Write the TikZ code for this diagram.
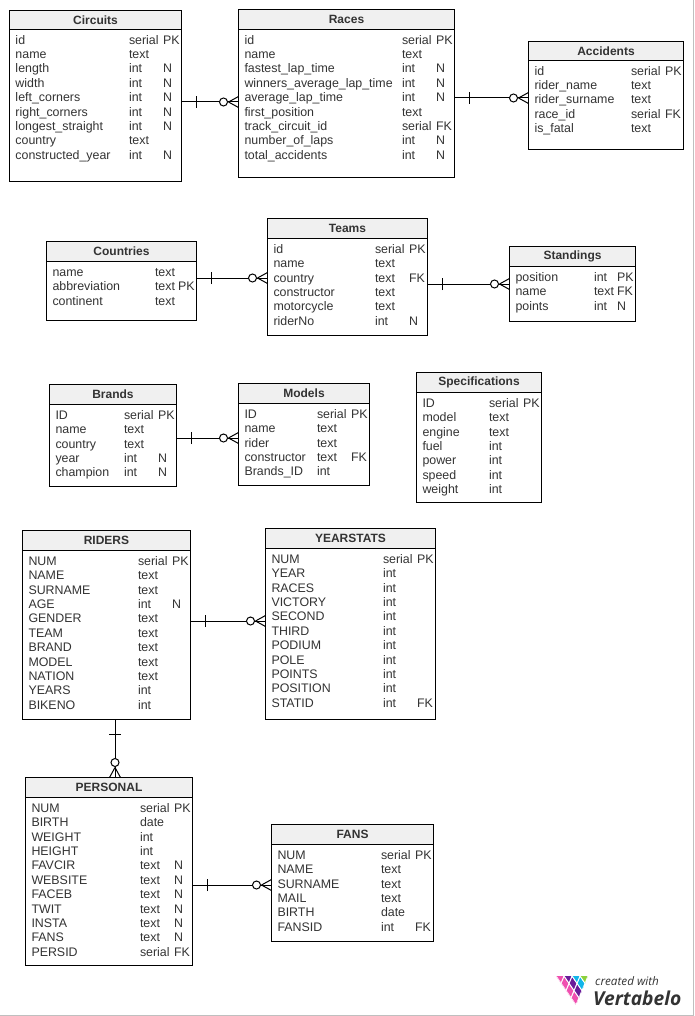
\documentclass[tikz,border=0pt]{standalone}
\usepackage{fontspec}
\setmainfont{Liberation Sans}
\newfontfamily\logofont{Open Sans}
\usetikzlibrary{calc}

\definecolor{headfill}{HTML}{F0F0F0}
\definecolor{rowtext}{HTML}{333333}
\definecolor{logogrey}{HTML}{333333}
\definecolor{logopink}{HTML}{F04FB0}
\definecolor{logopurple}{HTML}{6A1B9A}
\definecolor{logoblue}{HTML}{12B5EA}
\definecolor{logogreen}{HTML}{8CD13C}

\tikzset{
  tablebox/.style={draw=black, fill=white, line width=1pt, outer sep=0pt, inner sep=0pt, anchor=north west},
  tablehead/.style={tablebox, fill=headfill, text=rowtext, font=\bfseries\fontsize{12}{14}\selectfont},
  rowcell/.style={anchor=base west, inner sep=0pt, outer sep=0pt, text=rowtext, font=\fontsize{12.4}{14}\selectfont},
  link/.style={draw=black, line width=1pt},
}

% #1 name, #2 left, #3 top, #4 width, #5 height, #6 title, #7 head height
% #8 type column, #9 flag column, then the rows
\newcommand{\dbtable}[9]{%
  \node[tablebox, minimum width=#4pt, minimum height=#5pt] (#1) at (#2,-#3) {};
  \node[tablehead, minimum width=#4pt, minimum height=#7pt] (#1head) at (#2,-#3) {#6};
  \def\tabname{#1}\def\tabtype{#8}\def\tabflag{#9}%
  \pgfmathsetmacro{\tableft}{#2+6}\pgfmathsetmacro{\tabbase}{#3+#7+14.7}%
  \dbrows
}
\newcommand{\dbrows}[1]{%
  \foreach \rowname/\rowtype/\rowflag [count=\i] in {#1} {
    \pgfmathsetmacro{\rowy}{-\tabbase-14.4*(\i-1)}
    \node[rowcell] (\tabname-\i-name) at (\tableft,\rowy) {\rowname};
    \node[rowcell] (\tabname-\i-type) at (\tabtype,\rowy) {\rowtype};
    \node[rowcell] (\tabname-\i-flag) at (\tabflag,\rowy) {\rowflag};
  }
}
% one side a bar, other side a circle with a crow's foot
\newcommand{\hlink}[4]{%
  \coordinate (#1s) at (#2.east |- 0,-#4);
  \coordinate (#1e) at (#3.west |- 0,-#4);
  \draw[link] (#1s) -- (#1e);
  \draw[link] ([shift={(15,-6)}]#1s) -- ([shift={(15,6)}]#1s);
  \draw[link] ([xshift=-10]#1e) -- ([yshift=5.5]#1e);
  \draw[link] ([xshift=-10]#1e) -- ([yshift=-5.5]#1e);
  \draw[link, fill=white] ([xshift=-15]#1e) circle [radius=4];
}

\begin{document}
\begin{tikzpicture}[x=1pt, y=1pt]
  \useasboundingbox (0,0) rectangle (694,-1016);
  \draw[gray!50] (693.5,0) -- (693.5,-1015.5) -- (0,-1015.5);

  % first row
  \dbtable{circuits}{9.5}{10.5}{172}{171}{Circuits}{19}{129}{163}
  {id/serial/PK, name/text/{}, length/int/N, width/int/N, left\_corners/int/N, right\_corners/int/N,
   longest\_straight/int/N, country/text/{}, constructed\_year/int/N}
  \dbtable{races}{238.5}{9.5}{216}{168}{Races}{20}{402}{436}
  {id/serial/PK, name/text/{}, fastest\_lap\_time/int/N, winners\_average\_lap\_time/int/N,
   average\_lap\_time/int/N, first\_position/text/{}, track\_circuit\_id/serial/FK,
   number\_of\_laps/int/N, total\_accidents/int/N}
  \dbtable{accidents}{528.5}{41.5}{155}{108}{Accidents}{19}{631}{665}
  {id/serial/PK, rider\_name/text/{}, rider\_surname/text/{}, race\_id/serial/FK, is\_fatal/text/{}}

  % second row
  \dbtable{countries}{46.5}{241.5}{150}{79}{Countries}{20}{155}{178}
  {name/text/{}, abbreviation/text/PK, continent/text/{}}
  \dbtable{teams}{267.5}{218.5}{160}{117}{Teams}{20}{375}{409}
  {id/serial/PK, name/text/{}, country/text/FK, constructor/text/{}, motorcycle/text/{}, riderNo/int/N}
  \dbtable{standings}{509.5}{246.5}{126}{75}{Standings}{20}{594}{617}
  {position/int/PK, name/text/FK, points/int/N}

  % third row
  \dbtable{brands}{49.5}{384.5}{127}{102}{Brands}{20}{124}{158}
  {ID/serial/PK, name/text/{}, country/text/{}, year/int/N, champion/int/N}
  \dbtable{models}{238.5}{383.5}{131}{102}{Models}{20}{317}{351}
  {ID/serial/PK, name/text/{}, rider/text/{}, constructor/text/FK, Brands\_ID/int/{}}
  \dbtable{specs}{416.5}{372.5}{125}{130}{Specifications}{20}{489}{523}
  {ID/serial/PK, model/text/{}, engine/text/{}, fuel/int/{}, power/int/{}, speed/int/{}, weight/int/{}}

  % riders
  \dbtable{riders}{22.5}{530.5}{168}{189}{RIDERS}{20}{138}{172}
  {NUM/serial/PK, NAME/text/{}, SURNAME/text/{}, AGE/int/N, GENDER/text/{}, TEAM/text/{}, BRAND/text/{},
   MODEL/text/{}, NATION/text/{}, YEARS/int/{}, BIKENO/int/{}}
  \dbtable{yearstats}{265.5}{528.5}{170}{191}{YEARSTATS}{20}{383}{417}
  {NUM/serial/PK, YEAR/int/{}, RACES/int/{}, VICTORY/int/{}, SECOND/int/{}, THIRD/int/{}, PODIUM/int/{},
   POLE/int/{}, POINTS/int/{}, POSITION/int/{}, STATID/int/FK}
  \dbtable{personal}{25.5}{777.5}{167}{188}{PERSONAL}{20}{140}{174}
  {NUM/serial/PK, BIRTH/date/{}, WEIGHT/int/{}, HEIGHT/int/{}, FAVCIR/text/N, WEBSITE/text/N, FACEB/text/N,
   TWIT/text/N, INSTA/text/N, FANS/text/N, PERSID/serial/FK}
  \dbtable{fans}{271.5}{824.5}{162}{117}{FANS}{20}{381}{415}
  {NUM/serial/PK, NAME/text/{}, SURNAME/text/{}, MAIL/text/{}, BIRTH/date/{}, FANSID/int/FK}

  % connectors
  \hlink{l1}{circuits}{races}{102}
  \hlink{l2}{races}{accidents}{98}
  \hlink{l3}{countries}{teams}{278}
  \hlink{l4}{teams}{standings}{284}
  \hlink{l5}{brands}{models}{438}
  \hlink{l6}{riders}{yearstats}{621}
  \hlink{l7}{personal}{fans}{885}
  \coordinate (l8s) at (riders.south -| 115,0);
  \coordinate (l8e) at (personal.north -| 115,0);
  \draw[link] (l8s) -- (l8e);
  \draw[link] ([shift={(-6,-15)}]l8s) -- ([shift={(6,-15)}]l8s);
  \draw[link] ([yshift=10]l8e) -- ([xshift=-5.5]l8e);
  \draw[link] ([yshift=10]l8e) -- ([xshift=5.5]l8e);
  \draw[link, fill=white] ([yshift=15]l8e) circle [radius=4];

  % logo
  \begin{scope}[shift={(576,-1005)}, x={(-5pt,7.25pt)}, y={(3pt,7.25pt)}]
    \clip (0,0) -- (4,0) -- (0,4) -- cycle;
    \foreach \a/\b/\cellcol in {0/0/logopink, 1/0/logopink, 0/1/logopurple, 2/0/logopink, 1/1/logopurple,
      0/2/logoblue, 3/0/logopink, 2/1/logopurple, 1/2/logoblue, 0/3/logogreen} {
      \fill[\cellcol, draw=white, line width=0.9pt] (\a,\b) -- ++(1,0) -- ++(0,1) -- ++(-1,0) -- cycle;
    }
  \end{scope}
  \node[anchor=base west, inner sep=0pt, text=logogrey, font=\logofont\itshape\fontsize{11.7}{14}\selectfont] (logotop) at (595,-985) {created with};
  \node[anchor=base west, inner sep=0pt, text=logogrey, font=\logofont\bfseries\itshape\fontsize{19.2}{21}\selectfont] (logoname) at (593,-1005) {Vertabelo};
\end{tikzpicture}
\end{document}
